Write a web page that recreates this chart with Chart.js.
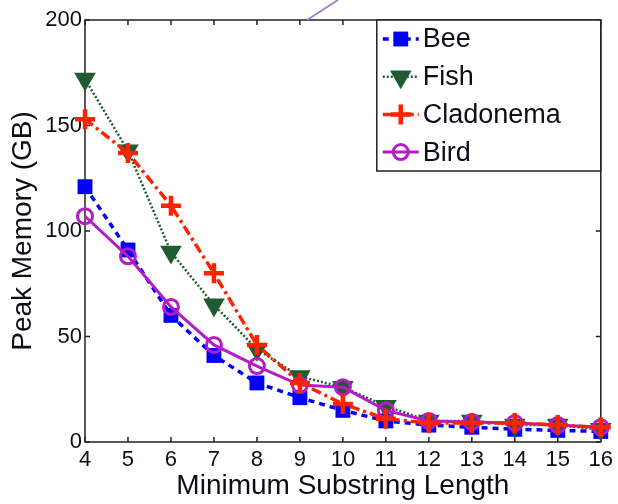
<!DOCTYPE html>
<html>
<head>
<meta charset="utf-8">
<script src="https://cdn.jsdelivr.net/npm/chart.js@4/dist/chart.umd.min.js"></script>
<style>
  html, body { margin: 0; padding: 0; background: #fff; }
  #wrap { width: 618px; height: 504px; position: relative; }
</style>
</head>
<body>
<div id="wrap"><canvas id="c" width="618" height="504"></canvas></div>
<script>
const lengths = [4, 5, 6, 7, 8, 9, 10, 11, 12, 13, 14, 15, 16];
const bee = [121, 91, 60, 41, 28, 21, 15, 10, 8, 7, 6, 5.5, 5];
const fish = [172, 138, 90, 65, 44, 31, 26, 17, 10, 10, 8, 8, 6];
const cladonema = [153, 137, 112, 80, 46, 28, 18, 11, 9, 9, 9, 8, 7];
const bird = [107, 88, 64, 46, 36, 27, 26, 15, 10, 9.5, 9, 8, 7];
const yTicks = [0, 50, 100, 150, 200];
const seriesNames = ['Bee', 'Fish', 'Cladonema', 'Bird'];

const FONT = '"Liberation Sans", Arial, Helvetica, sans-serif';
const TEXT = '#0d0d18';

function pts(vals) { return lengths.map((x, i) => ({ x: x, y: vals[i] })); }

const datasets = [
  { label: seriesNames[0], data: pts(bee), order: 3, borderColor: '#0000ff', backgroundColor: '#0000ff',
    borderWidth: 3.5, borderDash: [6, 5], pointStyle: 'rect', pointRadius: 10.5, pointBorderWidth: 0,
    pointBackgroundColor: '#0000ff', pointBorderColor: '#0000ff' },
  { label: seriesNames[1], data: pts(fish), order: 2, borderColor: '#1f5a32', backgroundColor: '#1f5a32',
    borderWidth: 2.5, borderDash: [2, 2], pointStyle: 'triangle', pointRotation: 180, pointRadius: 12.5, pointBorderWidth: 0,
    pointBackgroundColor: '#1f5a32', pointBorderColor: '#1f5a32' },
  { label: seriesNames[2], data: pts(cladonema), order: 0, borderColor: '#ff2200', backgroundColor: '#ff2200',
    borderWidth: 3.5, borderDash: [10, 4, 3, 4], pointStyle: 'cross', pointRadius: 10, pointBorderWidth: 4.5,
    pointBackgroundColor: '#ff2200', pointBorderColor: '#ff2200' },
  { label: seriesNames[3], data: pts(bird), order: 1, borderColor: '#b41cc4', backgroundColor: 'rgba(0,0,0,0)',
    borderWidth: 3, borderDash: [], pointStyle: 'circle', pointRadius: 7.5, pointBorderWidth: 3,
    pointBackgroundColor: 'rgba(0,0,0,0)', pointBorderColor: '#b41cc4' }
];
datasets.forEach(d => { d.clip = false; d.tension = 0; d.fill = false; });

function drawMarker(ctx, ds, x, y) {
  const opts = { pointStyle: ds.pointStyle, radius: ds.pointRadius, rotation: ds.pointRotation || 0, borderWidth: ds.pointBorderWidth };
  ctx.save();
  ctx.setLineDash([]);
  ctx.fillStyle = ds.pointBackgroundColor;
  ctx.strokeStyle = ds.pointBorderColor;
  ctx.lineWidth = ds.pointBorderWidth;
  if (Chart.helpers && Chart.helpers.drawPoint) {
    Chart.helpers.drawPoint(ctx, opts, x, y);
  }
  ctx.restore();
}

const framePlugin = {
  id: 'frame',
  beforeDatasetsDraw(chart) {
    const { ctx, chartArea: a, scales } = chart;
    ctx.save();
    ctx.strokeStyle = '#222';
    ctx.lineWidth = 1.5;
    ctx.strokeRect(a.left, a.top, a.right - a.left, a.bottom - a.top);
    const tl = 5;
    ctx.beginPath();
    scales.x.ticks.forEach(t => {
      const px = scales.x.getPixelForValue(t.value);
      ctx.moveTo(px, a.bottom); ctx.lineTo(px, a.bottom - tl);
      ctx.moveTo(px, a.top); ctx.lineTo(px, a.top + tl);
    });
    scales.y.ticks.forEach(t => {
      const py = scales.y.getPixelForValue(t.value);
      ctx.moveTo(a.left, py); ctx.lineTo(a.left + tl, py);
      ctx.moveTo(a.right, py); ctx.lineTo(a.right - tl, py);
    });
    ctx.stroke();
    ctx.restore();
  },
  afterDraw(chart) {
    const { ctx, chartArea: a } = chart;
    // legend
    const w = 224, h = 151;
    const lx = a.right - w, ly = a.top;
    ctx.save();
    ctx.fillStyle = '#fff';
    ctx.fillRect(lx, ly, w, h);
    ctx.strokeStyle = '#222';
    ctx.lineWidth = 1.5;
    ctx.strokeRect(lx, ly, w, h);
    ctx.font = '27px ' + FONT;
    ctx.textBaseline = 'middle';
    ctx.fillStyle = TEXT;
    chart.data.datasets.forEach((ds, i) => {
      const cy = ly + 19 + i * 37.7;
      const x0 = lx + 6, x1 = lx + 42;
      ctx.save();
      ctx.strokeStyle = ds.borderColor;
      ctx.lineWidth = ds.borderWidth;
      ctx.setLineDash(ds.borderDash || []);
      ctx.beginPath(); ctx.moveTo(x0, cy); ctx.lineTo(x1, cy); ctx.stroke();
      ctx.restore();
      drawMarker(ctx, ds, (x0 + x1) / 2, cy);
      ctx.fillStyle = TEXT;
      ctx.fillText(ds.label, lx + 46, cy + 1);
    });
    // small annotation stroke above the plot
    ctx.strokeStyle = '#9a80d4';
    ctx.lineWidth = 1.8;
    ctx.beginPath(); ctx.moveTo(307, a.top); ctx.lineTo(338, 0); ctx.stroke();
    ctx.restore();
  }
};

new Chart(document.getElementById('c'), {
  type: 'line',
  data: { datasets: datasets },
  options: {
    responsive: false,
    animation: false,
    devicePixelRatio: 1,
    layout: { padding: { top: 20, right: 15, left: 0, bottom: 0 } },
    plugins: { legend: { display: false }, tooltip: { enabled: false } },
    scales: {
      x: {
        type: 'linear', min: 4, max: 16,
        border: { display: false },
        grid: { display: false, drawTicks: false },
        ticks: { stepSize: 1, padding: 5, color: TEXT, font: { family: FONT, size: 22 }, maxRotation: 0 },
        title: { display: true, text: 'Minimum Substring Length', color: TEXT, font: { family: FONT, size: 28 }, padding: { top: 0, bottom: 1 } },
        afterFit(s) { s.height = 62; }
      },
      y: {
        type: 'linear', min: 0, max: 200,
        border: { display: false },
        grid: { display: false, drawTicks: false },
        afterBuildTicks(s) { s.ticks = yTicks.map(v => ({ value: v })); },
        ticks: { padding: 3, color: TEXT, font: { family: FONT, size: 22 } },
        title: { display: true, text: 'Peak Memory (GB)', color: TEXT, font: { family: FONT, size: 28 }, padding: { top: 6, bottom: 0 } },
        afterFit(s) { s.width = 85; }
      }
    }
  },
  plugins: [framePlugin]
});
</script>
</body>
</html>
